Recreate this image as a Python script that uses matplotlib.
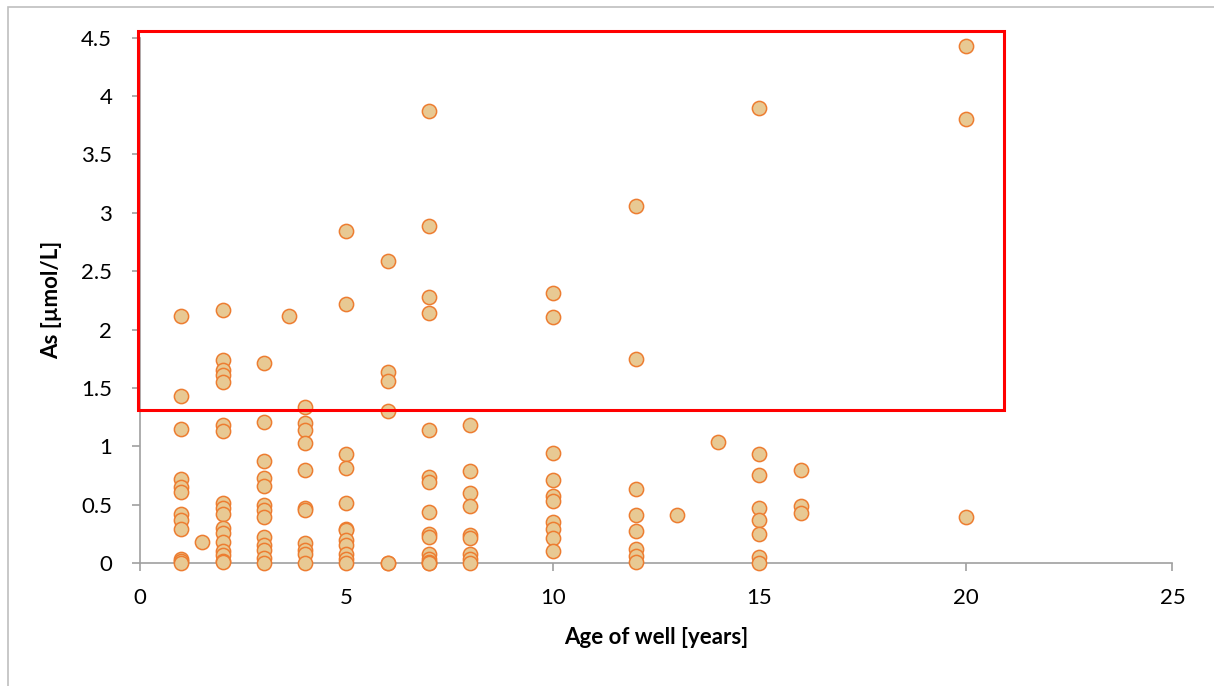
import matplotlib.pyplot as plt
from matplotlib.patches import Rectangle
from matplotlib.ticker import FuncFormatter

# Datos: edad del pozo (años) y As (µmol/L)
edad = ([1] * 12 + [1.5] + [2] * 17 + [3] * 13 + [3.6] + [4] * 11 + [5] * 12 + [6] * 6
        + [7] * 15 + [8] * 9 + [10] * 10 + [12] * 8 + [13] + [14] + [15] * 8 + [16] * 3 + [20] * 3)

arsenico = (
    # 1 año
    [2.12, 1.43, 1.15, 0.72, 0.65, 0.61, 0.42, 0.37, 0.29, 0.03, 0.02, 0.0]
    # 1.5 años
    + [0.18]
    # 2 años
    + [2.17, 1.74, 1.65, 1.61, 1.55, 1.18, 1.13, 0.51, 0.47, 0.42, 0.30, 0.26,
       0.18, 0.10, 0.07, 0.02, 0.01]
    # 3 años
    + [1.71, 1.21, 0.87, 0.73, 0.66, 0.50, 0.45, 0.39, 0.22, 0.15, 0.11, 0.04, 0.0]
    # 3.6 años
    + [2.12]
    # 4 años
    + [1.34, 1.20, 1.14, 1.03, 0.80, 0.47, 0.45, 0.17, 0.11, 0.08, 0.0]
    # 5 años
    + [2.84, 2.22, 0.93, 0.81, 0.51, 0.29, 0.28, 0.20, 0.15, 0.08, 0.03, 0.0]
    # 6 años
    + [2.59, 1.64, 1.56, 1.30, 0.0, 0.0]
    # 7 años
    + [3.87, 2.89, 2.28, 2.14, 1.14, 0.74, 0.69, 0.44, 0.25, 0.22, 0.08, 0.03,
       0.0, 0.01, 0.0]
    # 8 años
    + [1.18, 0.79, 0.60, 0.49, 0.24, 0.21, 0.08, 0.03, 0.0]
    # 10 años
    + [2.31, 2.11, 0.94, 0.71, 0.57, 0.53, 0.35, 0.29, 0.21, 0.10]
    # 12 años
    + [3.06, 1.75, 0.63, 0.41, 0.27, 0.12, 0.06, 0.01]
    # 13 y 14 años
    + [0.41]
    + [1.04]
    # 15 años
    + [3.90, 0.93, 0.75, 0.47, 0.37, 0.25, 0.05, 0.0]
    # 16 años
    + [0.80, 0.49, 0.43]
    # 20 años
    + [4.43, 3.80, 0.39]
)

plt.rcParams['font.family'] = ['Lato', 'DejaVu Sans']

fig = plt.figure(figsize=(12.14, 6.86), dpi=100)
ax = fig.add_axes([0.1153, 0.1793, 0.8505, 0.7657])

ax.scatter(edad, arsenico, s=105, facecolor='#E8C993', edgecolor='#ED7D31',
           linewidths=1.1, zorder=3, clip_on=False)

ax.set_xlim(0, 25)
ax.set_ylim(0, 4.5)
ax.set_xticks(range(0, 26, 5))
ax.set_yticks([i * 0.5 for i in range(10)])
ax.yaxis.set_major_formatter(FuncFormatter(lambda v, pos: f'{v:g}'))

for lado in ['top', 'right']:
    ax.spines[lado].set_visible(False)
for lado in ['left', 'bottom']:
    ax.spines[lado].set_color('#A0A0A0')
    ax.spines[lado].set_linewidth(1.2)
ax.tick_params(axis='both', direction='out', length=6, width=1.2, color='#A0A0A0',
               labelsize=16, labelcolor='black')
ax.tick_params(axis='x', pad=12)
ax.tick_params(axis='y', pad=14)

ax.set_xlabel('Age of well [years]', fontsize=16, fontweight='bold', labelpad=14)
ax.set_ylabel('As [µmol/L]', fontsize=16, fontweight='bold', labelpad=14)

# Recuadro rojo que marca los valores altos
ax.add_patch(Rectangle((-0.05, 1.31), 20.97, 3.25, fill=False, edgecolor='red',
                       linewidth=2.2, clip_on=False, zorder=4))

# Borde gris del área del gráfico
fig.patches.append(Rectangle((8 / 1214, -0.5), 2.0, 1.5 - 7 / 686, fill=False,
                             edgecolor='#BFBFBF', linewidth=1.2,
                             transform=fig.transFigure, figure=fig))

fig.savefig('out.png', dpi=100)
